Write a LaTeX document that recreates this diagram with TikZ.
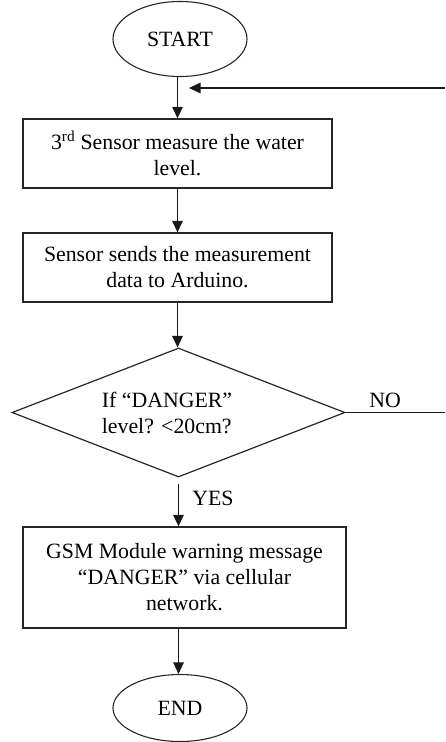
\documentclass[tikz,border=0pt]{standalone}
\usepackage{fontspec}
\setmainfont{Liberation Serif}
\usetikzlibrary{shapes.geometric,arrows.meta}

\begin{document}
\begin{tikzpicture}[x=1pt,y=-1pt,
  every node/.style={font=\fontsize{21.8}{26}\selectfont, text=black},
  flowline/.style={line width=1.3pt, draw=black!90},
  flowarrow/.style={flowline, -{Triangle[length=11.5pt,width=10.5pt]}},
  terminal/.style={ellipse, draw=black!85, line width=1.1pt, inner sep=0pt,
    minimum width=134pt},
  process/.style={rectangle, draw=black!85, line width=1.3pt, inner sep=0pt,
    align=center},
  decision/.style={diamond, draw=black!85, line width=1.2pt, inner sep=0pt,
    minimum width=333pt, minimum height=129pt},
  branchlabel/.style={inner sep=0pt}
]
\useasboundingbox (0,0) rectangle (445,742);

% start / end terminals
\node[terminal, minimum height=75pt] (start) at (180,39) {START};
\node[terminal, minimum height=67pt] (end) at (180,708) {END};

% process steps
\node[process, minimum width=309pt, minimum height=69pt] (measure) at (177.5,153.5)
  {3\textsuperscript{rd} Sensor measure the water\\level.};
\node[process, minimum width=309pt, minimum height=69pt] (send) at (177.5,267.5)
  {Sensor sends the measurement\\data to Arduino.};

% decision
\node[decision] (check) at (178.5,412.5) {};
\node[align=left, inner sep=0pt] (checktext) at (167,412.5)
  {If “DANGER”\\level? <20cm?};

% warning step
\node[process, minimum width=323pt, minimum height=101pt] (warn) at (184.5,577.5)
  {GSM Module warning message\\“DANGER” via cellular\\network.};

% branch labels
\node[branchlabel] (yes) at (213,498) {YES};
\node[branchlabel] (no) at (385,400) {NO};

% loop-back ends at the right margin
\coordinate (noend) at (445,412.5);
\coordinate (loopin) at (445,88);
\coordinate (looptip) at (189,88);

% connectors
\draw[flowarrow] (measure.north |- start.south) -- (measure.north);
\draw[flowarrow] (measure.south) -- (send.north);
\draw[flowarrow] (send.south) -- (send.south |- check.north);
\draw[flowarrow] ([yshift=-6pt]check.south) -- (check.south |- warn.north);
\draw[flowarrow] (check.south |- warn.south) -- (check.south |- end.north);
\draw[flowline] (check.east) -- (noend);
\draw[flowarrow] (loopin) -- (looptip);
\end{tikzpicture}
\end{document}
